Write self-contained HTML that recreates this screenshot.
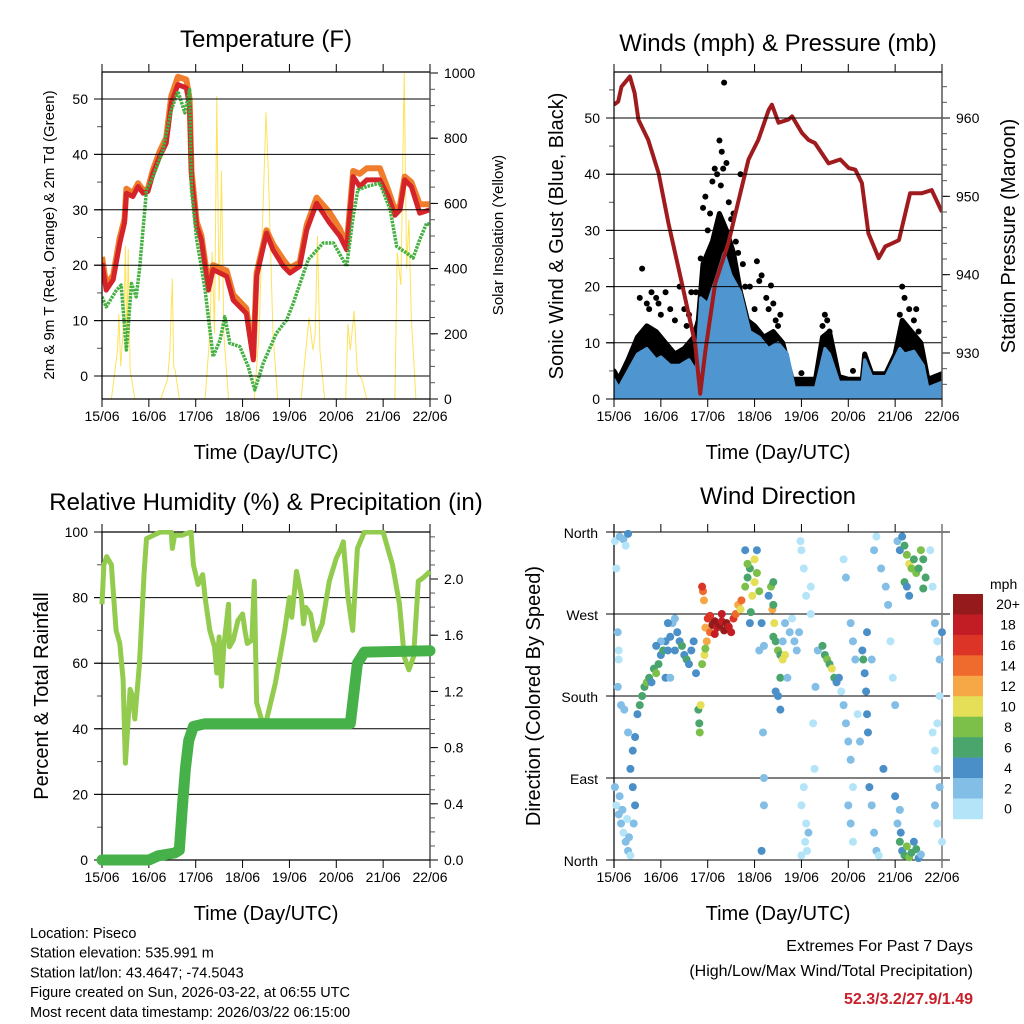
<!DOCTYPE html>
<html><head><meta charset="utf-8"><style>
html,body{margin:0;padding:0;background:#fff}
svg{display:block;font-family:"Liberation Sans",sans-serif}
</style></head><body>
<svg id="fig" width="1024" height="1024" viewBox="0 0 1024 1024" xmlns="http://www.w3.org/2000/svg"></svg>
<script>
// ---------- DATA ----------
const dayLabels=["15/06","16/06","17/06","18/06","19/06","20/06","21/06","22/06"];
// Temperature panel
const tempT=[0,0.09,0.24,0.38,0.48,0.52,0.66,0.77,0.88,0.98,1.09,1.23,1.37,1.48,1.62,1.8,1.87,1.91,2.02,2.12,2.27,2.37,2.66,2.8,3.08,3.23,3.3,3.51,3.65,3.87,4.01,4.22,4.37,4.58,4.86,5.08,5.22,5.36,5.5,5.65,5.93,6.11,6.25,6.36,6.46,6.6,6.78,7];
const temp2m=[20.4,15.5,17.4,24,27.6,33,32.4,34.2,33,33.3,36.6,39.6,42,49.3,52.6,52,48.7,36,27,24.6,15.5,19.2,18,13.7,11.3,2.9,18,25.8,22.8,19.8,18.6,19.8,26.4,31.2,27.6,25.2,22.8,36,34.2,35.4,35.4,32.4,29,30,35.4,34.2,29.4,30];
const temp9m=[21.5,16.5,18.2,25,28.3,33.8,33,34.8,33.5,33.8,37.3,40.5,43,50.5,54,53.5,50,37,27.8,25.4,16.5,20,19,14.7,12.2,3.5,18.6,26.3,23.8,21,19.5,20.5,27.3,32.2,29.5,26.5,23.5,37,36.5,37.5,37.5,33.5,30,30.8,36,35,31,31];
const dewT=[0,0.09,0.31,0.41,0.52,0.63,0.73,0.8,0.95,1.09,1.3,1.48,1.62,1.77,1.87,1.91,2.02,2.12,2.2,2.37,2.52,2.62,2.73,2.94,3.12,3.26,3.44,3.72,3.94,4.08,4.4,4.72,4.94,5.22,5.36,5.46,5.65,5.93,6.15,6.29,6.5,6.64,6.78,6.93,7];
const dewVal=[14.3,12.5,15.5,16.4,4.7,16.7,14.3,19.2,33.6,36,40.8,48,51.4,47.5,51.7,33.6,24.6,19.8,15.5,3.5,6.5,10.7,5.9,5.3,1.7,-2.5,2.3,7.7,10.1,13.1,21,24,24,19.8,28.8,33.6,34.2,34.8,30,23.4,22.2,21.3,24.6,27.6,27.3];
const solarT=[0,0.2,0.33,0.36,0.4,0.47,0.5,0.53,0.56,0.6,0.7,1.25,1.4,1.45,1.5,1.53,1.56,1.65,2.2,2.3,2.35,2.4,2.45,2.5,2.55,2.6,2.7,3.25,3.35,3.45,3.5,3.55,3.65,3.75,4.25,4.35,4.42,4.5,4.55,4.6,4.65,4.75,5.2,5.25,5.3,5.38,5.45,5.55,5.65,6.25,6.3,6.38,6.45,6.5,6.55,6.6,6.7,7];
const solarVal=[0,0,150,260,100,250,470,150,460,90,0,0,60,150,370,100,90,0,0,200,450,200,930,300,700,200,0,0,200,650,880,700,200,0,0,150,250,150,200,500,150,0,0,230,150,270,80,60,0,0,450,350,1000,400,550,250,0,0];
const tempTicks=[0,10,20,30,40,50];
const solarTicks=[0,200,400,600,800,1000];
// Winds panel
const presT=[0,0.09,0.16,0.34,0.44,0.52,0.73,0.95,1.16,1.45,1.73,1.84,1.95,2.16,2.44,2.66,2.87,3.08,3.3,3.37,3.51,3.72,3.8,4.01,4.15,4.29,4.58,4.83,5.01,5.15,5.29,5.43,5.65,5.79,6.08,6.32,6.57,6.78,7];
const presVal=[961.7,962.1,964,965.3,963.2,959.8,957.2,953,946.6,938.9,931.2,924.8,930.3,938.9,944,949.5,954.7,957.2,961,961.7,959.4,959.8,960.2,958.1,957.2,956.8,954.2,954.7,953.6,953.4,951.7,945.3,942.1,943.6,944.4,950.4,950.4,950.8,948];
const windT=[0,0.1,0.3,0.5,0.7,0.9,1.0,1.2,1.4,1.6,1.75,1.85,2.0,2.2,2.35,2.5,2.7,2.9,3.1,3.3,3.5,3.7,3.85,4.1,4.3,4.5,4.6,4.8,5.0,5.3,5.35,5.5,5.8,6.1,6.2,6.4,6.6,6.7,7];
const windHi=[3.5,2,5,8,9,7,7.5,6,6,7,5,18,17,22,26,22,19,12,11,9,10,8,2,2,2,9,8,3,3,3,7,4,4,9,8,8.5,6,2,3];
const gustT=[0,0.1,0.3,0.5,0.7,0.9,1.1,1.3,1.5,1.7,1.8,1.9,2.1,2.25,2.4,2.55,2.7,2.85,3.0,3.2,3.4,3.6,3.8,4.1,4.3,4.45,4.6,4.8,5.0,5.3,5.35,5.5,5.8,6.0,6.15,6.35,6.55,6.7,7];
const gustHi=[5,3.5,7,11,13,12,10,8,9,11,14,24,28,33,30,26,19,14,13,11,12,10,3.5,3.5,3.5,11,12,4,3.5,3.5,8,4.5,4.5,8,14,12,10,3.5,4.5];
const gustDotT=[0.6,2.35,2.1,2.2,1.75,2.7,2.1,2.3,3.05,3.35,1.1,0.8,3.55,4.5,6.15,6.45,1.5,1.4,0.9,1.65,2.55,2.6,3.1,4.0,5.1,2.9,3.4,0.55,1.95,2.45,2.25,2.4,2.15,0.7,0.75,0.95,1.0,1.2,1.3,1.55,1.6,1.85,1.9,2.0,2.05,2.28,2.33,2.5,2.65,2.75,2.8,3.0,3.15,3.25,3.3,3.45,3.5,4.45,4.55,4.6,6.1,6.2,6.3,6.4,6.5];
const gustDotV=[23.2,56.3,38.7,40,19,40,18,44,24.5,20.2,19,19,15,15,20,16,16,20,18,19,33,28,21,4.6,5,20,17,18,36,35,46,42,41,17,16,17,15,16,14,13,15,25,34,30,33,38,41,32,26,24,20,16,22,18,16,14,13,13,14,12,15,18,16,14,12];
const windTicks=[0,10,20,30,40,50];
const presTicks=[930,940,950,960];
// RH panel
const rhT=[0,0.04,0.1,0.2,0.25,0.3,0.38,0.45,0.5,0.6,0.65,0.7,0.8,0.9,0.95,1.1,1.25,1.48,1.5,1.55,1.7,1.9,1.95,2.05,2.15,2.2,2.3,2.4,2.45,2.5,2.55,2.6,2.7,2.72,2.8,2.9,3.0,3.05,3.1,3.2,3.25,3.3,3.4,3.5,3.6,3.7,3.8,3.9,4.0,4.05,4.15,4.25,4.3,4.35,4.45,4.55,4.7,4.85,5.0,5.1,5.15,5.25,5.35,5.45,5.6,5.8,6.0,6.1,6.2,6.35,6.45,6.55,6.65,6.75,6.85,7];
const rhVal=[78,90,92.5,90,80,70,66,55,29.5,52,50,43,60,88,98,99,100,100,95,99,99,100,90,84,87,80,70,65,57,68,53,65,78,65,67,73,75,70,66,67,85,48,43,42,48,54,62,70,80,74,88,81,72,77,75,67,72,85,92,95,97,80,70,95,100,100,100,95,90,78,62,58,62,85,86,88];
const rainT=[0,1.0,1.2,1.55,1.65,1.72,1.78,1.85,1.95,2.2,5.3,5.45,5.6,7];
const rainVal=[0,0,0.03,0.05,0.07,0.4,0.65,0.85,0.95,0.97,0.97,1.4,1.48,1.49];
const rhTicks=[0,20,40,60,80,100];
const rainTicks=[0.0,0.4,0.8,1.2,1.6,2.0];
// Direction panel: time (days), direction (deg), speed (mph)
const dirT=[0.02,0.05,0.08,0.1,0.12,0.2,0.25,0.3,0.02,0.05,0.1,0.15,0.2,0.25,0.3,0.35,0.12,0.18,0.28,0.32,0.08,0.1,0.15,0.22,0.3,0.35,0.4,0.45,0.5,0.55,0.6,0.65,0.7,0.75,0.8,0.85,0.9,0.95,1.0,1.05,1.1,1.15,1.2,1.25,1.3,1.35,1.4,1.45,1.5,1.55,1.6,1.65,1.7,1.75,1.8,1.82,1.83,1.85,0.45,0.4,0.42,1.0,0.9,1.15,1.1,1.2,1.3,
1.9,1.88,1.92,1.95,2.0,2.05,2.1,2.15,2.2,2.25,2.3,2.35,2.4,2.45,2.5,2.55,2.6,2.65,2.7,2.72,2.3,2.15,2.05,1.98,1.93,1.88,1.95,
2.8,2.85,2.9,2.95,3.0,3.05,3.1,2.8,2.85,3.0,2.92,2.9,3.05,3.15,3.2,3.3,3.35,3.4,3.38,3.42,3.4,3.45,3.5,3.55,3.6,3.65,3.55,3.5,3.55,3.7,3.6,3.65,3.75,3.8,3.85,3.9,3.95,3.4,3.45,3.18,3.2,3.2,3.15,3.1,
3.98,4.0,4.05,4.1,4.05,4.0,4.1,4.15,4.08,4.12,4.0,4.2,4.25,4.28,4.2,4.35,4.3,4.45,4.5,4.55,4.6,4.65,4.7,4.75,4.8,4.85,4.9,4.95,5.0,5.05,5.1,5.0,5.05,5.1,4.9,4.95,5.05,5.1,5.15,5.2,5.25,5.3,5.32,5.35,5.38,5.4,5.42,5.4,5.45,5.5,5.55,5.6,5.65,5.5,5.55,5.6,5.7,5.8,5.85,5.9,5.95,6.0,5.75,
6.05,6.1,6.15,6.2,6.25,6.3,6.35,6.4,6.45,6.5,6.55,6.6,6.65,6.2,6.25,6.3,6.6,6.1,6.15,6.2,6.25,6.3,6.35,6.4,6.45,6.5,6.55,6.0,6.05,6.1,6.12,6.8,6.85,6.9,6.95,6.95,6.9,6.85,6.9,6.95,6.85,6.9,7.0,7.0,6.75,6.8];
const dirVal=[350,320,250,230,355,352,345,358,80,60,50,40,30,20,10,5,70,55,45,25,190,220,170,165,140,100,120,135,160,170,180,190,195,200,195,210,205,215,225,230,240,230,245,260,265,250,240,235,225,220,215,230,240,205,165,150,140,170,60,80,40,240,235,260,200,200,230,
295,300,285,255,265,250,258,262,255,258,262,252,260,256,250,265,270,280,275,285,270,248,268,240,225,215,232,
300,310,320,290,305,315,295,340,325,330,272,260,340,260,235,290,300,305,275,260,245,240,230,225,220,225,200,180,165,200,240,260,250,265,240,230,250,280,185,140,90,60,10,230,
350,340,320,290,80,60,40,30,20,10,5,270,150,100,300,230,190,235,225,220,215,210,200,195,200,185,170,150,130,110,80,60,40,20,330,310,260,240,220,160,130,230,220,205,185,160,140,250,80,60,30,10,5,220,340,355,320,300,280,240,200,170,100,
350,340,355,345,335,325,320,330,315,320,340,330,310,305,300,290,298,20,10,5,15,3,8,20,12,2,6,70,40,55,30,300,260,240,220,180,150,120,100,80,60,40,20,250,340,140];
const dirSpd=[1,1,2,1,2,2,1,4,2,1,2,2,1,2,2,1,3,2,1,3,2,1,2,3,2,4,4,4,4,6,7,6,8,6,4,6,8,6,4,6,4,4,4,2,3,4,4,6,4,6,5,4,4,5,6,7,8,10,4,4,3,2,4,4,4,3,4,
15,16,13,12,16,15,20,20,19,20,19,20,20,19,18,17,14,12,10,14,18,19,17,13,11,9,8,
8,7,6,10,11,9,8,4,8,10,6,4,4,4,2,4,8,6,12,10,6,6,8,6,10,10,6,4,4,2,2,2,2,1,2,2,2,6,4,3,2,2,4,2,
0,1,0,1,1,1,1,2,0,1,0,1,1,1,0,2,3,6,7,8,7,10,6,4,4,1,2,2,2,2,1,2,2,1,1,2,3,2,2,1,2,5,6,4,4,4,4,4,4,3,2,3,1,2,2,1,2,3,2,1,1,2,4,
2,4,4,6,8,10,8,6,8,6,8,6,6,6,4,4,6,6,4,6,8,8,6,4,6,4,2,4,2,2,4,1,2,1,2,1,1,1,1,2,2,1,1,4,1,1];
const speedBins=["0","2","4","6","8","10","12","14","16","18","20+"];
const speedColors=["#b4e4f8","#82bee6","#4a8fc7","#4aa56c","#7cc04a","#e4df57","#f5a845","#ee6a2d","#dd3428","#c21d24","#941a1c"];
const dirTicks=[0,90,180,270,360];
const dirNames=["North","East","South","West","North"];

// ---------- DRAWING ----------
const NS="http://www.w3.org/2000/svg";
const svg=document.getElementById('fig');
function mk(parent,tag,attrs,name,inter){
  const el=document.createElementNS(NS,tag);
  for(const k in attrs) el.setAttribute(k,attrs[k]);
  
  
  parent.appendChild(el);
  return el;
}
function txt(parent,x,y,s,size,anchor,name,extra){
  const a=Object.assign({x:x,y:y,'font-size':size,'text-anchor':anchor||'middle',fill:'#000'},extra||{});
  const t=mk(parent,'text',a,name,false);
  t.textContent=s;
  return t;
}
function lin(d0,d1,r0,r1){return v=>r0+(v-d0)*(r1-r0)/(d1-d0);}
function path(xs,ys,fx,fy){return xs.map((t,i)=>(i?'L':'M')+fx(t).toFixed(1)+','+fy(ys[i]).toFixed(1)).join('');}

function frame(g,X0,X1,Y0,Y1,fx,lticks,fyL,lfmt,rticks,fyR,rfmt,rminor,lminor,gridTicks){
  gridTicks.forEach(v=>{mk(g,'line',{x1:X0-8,x2:X1,y1:fyL(v),y2:fyL(v),stroke:'#000','stroke-width':1},'grid-line',false);});
  lminor.forEach(v=>{mk(g,'line',{x1:X0-5,x2:X0,y1:fyL(v),y2:fyL(v),stroke:'#555','stroke-width':1},'left-minor-tick',false);});
  lticks.forEach(v=>{
    mk(g,'line',{x1:X0-8,x2:X0,y1:fyL(v),y2:fyL(v),stroke:'#000','stroke-width':1},'left-tick',false);
    txt(g,X0-14,fyL(v)+5,lfmt(v),14,'end','left-tick-label');
  });
  if(rticks){
    rminor.forEach(v=>{mk(g,'line',{x1:X1,x2:X1+5,y1:fyR(v),y2:fyR(v),stroke:'#555','stroke-width':1},'right-minor-tick',false);});
    rticks.forEach(v=>{
      mk(g,'line',{x1:X1,x2:X1+8,y1:fyR(v),y2:fyR(v),stroke:'#000','stroke-width':1},'right-tick',false);
      txt(g,X1+14,fyR(v)+5,rfmt(v),14,'start','right-tick-label');
    });
  }
  dayLabels.forEach((d,i)=>{
    const x=fx(i);
    mk(g,'line',{x1:x,x2:x,y1:Y1,y2:Y1+8,stroke:'#000','stroke-width':1},'bottom-tick',false);
    mk(g,'line',{x1:x,x2:x,y1:Y0-8,y2:Y0,stroke:'#000','stroke-width':1},'top-tick',false);
    txt(g,x,Y1+22,d,14,'middle','x-tick-label');
  });
  mk(g,'line',{x1:X0,x2:X0,y1:Y0,y2:Y1,stroke:'#000','stroke-width':1.2},'left-axis',false);
  mk(g,'line',{x1:X1,x2:X1,y1:Y0,y2:Y1,stroke:'#555','stroke-width':1.5},'right-axis',false);
  mk(g,'line',{x1:X0,x2:X1,y1:Y0,y2:Y0,stroke:'#000','stroke-width':1.2},'top-axis',false);
  mk(g,'line',{x1:X0,x2:X1,y1:Y1,y2:Y1,stroke:'#000','stroke-width':1.2},'bottom-axis',false);
  txt(g,(X0+X1)/2,Y1+60,'Time (Day/UTC)',20,'middle','x-axis-title');
}
function range(a,b,s){const r=[];for(let v=a;v<=b+1e-9;v+=s)r.push(+v.toFixed(4));return r;}

// ===== Panel 1: Temperature =====
{
  const g=mk(svg,'g',{},'temperature-panel',false);
  const X0=102,X1=430,Y0=72,Y1=399;
  const fx=lin(0,7,X0,X1), fy=lin(0,50,376,99), fs=lin(0,1000,399,73);
  const cp=mk(svg,'clipPath',{id:'c1'},'clip',false);mk(cp,'rect',{x:X0,y:Y0,width:X1-X0,height:Y1-Y0},'clip-rect',false);
  const plot=mk(g,'g',{'clip-path':'url(#c1)'},'temperature-plot-area',false);
  mk(plot,'path',{d:path(solarT,solarVal,fx,fs),fill:'none',stroke:'#fde35a','stroke-width':1},'solar-insolation-line',false);
  mk(plot,'path',{d:path(tempT,temp9m,fx,fy),fill:'none',stroke:'#f07d2c','stroke-width':6,'stroke-linejoin':'round'},'temp-9m-line',false);
  mk(plot,'path',{d:path(tempT,temp2m,fx,fy),fill:'none',stroke:'#d5232a','stroke-width':5,'stroke-linejoin':'round'},'temp-2m-line',false);
  mk(plot,'path',{d:path(dewT,dewVal,fx,fy),fill:'none',stroke:'#43b040','stroke-width':3.5,'stroke-dasharray':'2.5 1','stroke-linejoin':'round'},'dewpoint-line',false);
  frame(g,X0,X1,Y0,Y1,fx,tempTicks,fy,v=>String(v),solarTicks,fs,v=>String(v),range(0,1000,50),range(-0,55,5).concat([-5]).filter(v=>fy(v)>=Y0&&fy(v)<=Y1),range(0,50,10));
  txt(g,266,47,'Temperature (F)',24,'middle','chart-title');
  txt(g,0,0,'2m & 9m T (Red, Orange) & 2m Td (Green)',15,'middle','y-axis-title',{transform:'translate(54,235) rotate(-90)'});
  txt(g,0,0,'Solar Insolation (Yellow)',15,'middle','right-axis-title',{transform:'translate(503,235) rotate(-90)'});
}
// ===== Panel 2: Winds =====
{
  const g=mk(svg,'g',{},'winds-panel',false);
  const X0=614,X1=942,Y0=62,Y1=399;
  const fx=lin(0,7,X0,X1), fy=lin(0,50,399,118), fp=lin(930,960,353,118);
  const cp=mk(svg,'clipPath',{id:'c2'},'clip',false);mk(cp,'rect',{x:X0,y:Y0,width:X1-X0,height:Y1-Y0},'clip-rect',false);
  const plot=mk(g,'g',{'clip-path':'url(#c2)'},'winds-plot-area',false);
  const gd=path(gustT,gustHi,fx,fy)+'L'+fx(7)+','+fy(0)+'L'+fx(0)+','+fy(0)+'Z';
  mk(plot,'path',{d:gd,fill:'#000',stroke:'#000','stroke-width':5,'stroke-linejoin':'round'},'gust-band',false);
  gustDotT.forEach((t,i)=>{mk(plot,'circle',{cx:fx(t),cy:fy(gustDotV[i]),r:3,fill:'#000'},'gust-point',false);});
  const wd=path(windT,windHi,fx,fy)+'L'+fx(7)+','+fy(0)+'L'+fx(0)+','+fy(0)+'Z';
  mk(plot,'path',{d:wd,fill:'#4f96d0',stroke:'#4f96d0','stroke-width':3,'stroke-linejoin':'round'},'wind-speed-band',false);
  mk(plot,'path',{d:path(presT,presVal,fx,fp),fill:'none',stroke:'#a01b1d','stroke-width':4,'stroke-linejoin':'round'},'pressure-line',false);
  frame(g,X0,X1,72,Y1,fx,windTicks,fy,v=>String(v),presTicks,fp,v=>String(v),range(926,966,2).filter(v=>fp(v)>=72&&fp(v)<=Y1),range(5,55,5),range(0,50,10));
  txt(g,778,51,'Winds (mph) & Pressure (mb)',24,'middle','chart-title');
  txt(g,0,0,'Sonic Wind & Gust (Blue, Black)',20,'middle','y-axis-title',{transform:'translate(563,236) rotate(-90)'});
  txt(g,0,0,'Station Pressure (Maroon)',20,'middle','right-axis-title',{transform:'translate(1015,236) rotate(-90)'});
}
// ===== Panel 3: RH =====
{
  const g=mk(svg,'g',{},'humidity-panel',false);
  const X0=102,X1=430,Y0=532,Y1=860;
  const fx=lin(0,7,X0,X1), fy=lin(0,100,860,532), fr=lin(0,2,860,579);
  const cp=mk(svg,'clipPath',{id:'c3'},'clip',false);mk(cp,'rect',{x:X0-8,y:Y0-2,width:X1-X0+16,height:Y1-Y0+10},'clip-rect',false);
  frame(g,X0,X1,Y0,Y1,fx,rhTicks,fy,v=>String(v),rainTicks,fr,v=>v.toFixed(1),range(0,2.3,0.1),range(10,90,10),rhTicks);
  const plot=mk(g,'g',{'clip-path':'url(#c3)'},'humidity-plot-area',false);
  mk(plot,'path',{d:path(rhT,rhVal,fx,fy),fill:'none',stroke:'#92cb4e','stroke-width':5,'stroke-linejoin':'round'},'relative-humidity-line',false);
  mk(plot,'path',{d:path(rainT,rainVal,fx,fr),fill:'none',stroke:'#46b148','stroke-width':11,'stroke-linejoin':'round','stroke-linecap':'round'},'precipitation-line',false);
  txt(g,266,510,'Relative Humidity (%) & Precipitation (in)',24,'middle','chart-title');
  txt(g,0,0,'Percent & Total Rainfall',20,'middle','y-axis-title',{transform:'translate(48,696) rotate(-90)'});
}
// ===== Panel 4: Direction =====
{
  const g=mk(svg,'g',{},'wind-direction-panel',false);
  const X0=614,X1=942,Y0=532,Y1=860;
  const fx=lin(0,7,X0,X1), fy=lin(0,360,860,532);
  dirTicks.forEach((v,i)=>{
    mk(g,'line',{x1:X0-8,x2:X1+8,y1:fy(v),y2:fy(v),stroke:'#000','stroke-width':1},'grid-line',false);
    txt(g,X0-16,fy(v)+6,dirNames[i],14,'end','direction-tick-label');
  });
  dayLabels.forEach((d,i)=>{
    const x=fx(i);
    mk(g,'line',{x1:x,x2:x,y1:Y1,y2:Y1+8,stroke:'#000'},'bottom-tick',false);
    mk(g,'line',{x1:x,x2:x,y1:Y0-8,y2:Y0,stroke:'#000'},'top-tick',false);
    txt(g,x,Y1+22,d,14,'middle','x-tick-label');
  });
  mk(g,'line',{x1:X0,x2:X0,y1:Y0-8,y2:Y1+8,stroke:'#000','stroke-width':1.2},'left-axis',false);
  mk(g,'line',{x1:X1,x2:X1,y1:Y0-8,y2:Y1+8,stroke:'#777','stroke-width':1.5},'right-axis',false);
  const plot=mk(g,'g',{},'direction-plot-area',false);
  dirT.forEach((t,i)=>{
    const b=Math.min(10,Math.floor(dirSpd[i]/2));
    mk(plot,'circle',{cx:fx(t),cy:fy(dirVal[i]),r:4,fill:speedColors[b]},'direction-point',false);
  });
  txt(g,(X0+X1)/2,Y1+60,'Time (Day/UTC)',20,'middle','x-axis-title');
  txt(g,778,504,'Wind Direction',24,'middle','chart-title');
  txt(g,0,0,'Direction (Colored By Speed)',20,'middle','y-axis-title',{transform:'translate(540,696) rotate(-90)'});
  const lg=mk(g,'g',{},'speed-legend',false);
  txt(lg,990,589,'mph',14,'start','legend-title');
  const bh=20.45;
  speedBins.forEach((s,i)=>{
    const k=10-i, y=594+i*bh;
    mk(lg,'rect',{x:953,y:y,width:30,height:bh+0.3,fill:speedColors[k]},'legend-swatch',false);
    txt(lg,1008,y+bh/2+5,speedBins[k],14,'middle','legend-label');
  });
}
// ===== Footer =====
{
  const g=mk(svg,'g',{},'footer',false);
  const lines=["Location: Piseco","Station elevation: 535.991 m","Station lat/lon: 43.4647; -74.5043","Figure created on Sun, 2026-03-22, at 06:55 UTC","Most recent data timestamp: 2026/03/22 06:15:00"];
  lines.forEach((s,i)=>txt(g,30,938+i*19.7,s,14.5,'start','station-info-line'));
  txt(g,973,951,'Extremes For Past 7 Days',16,'end','extremes-title');
  txt(g,973,976,'(High/Low/Max Wind/Total Precipitation)',16,'end','extremes-subtitle');
  txt(g,973,1004,'52.3/3.2/27.9/1.49',16,'end','extremes-values',{fill:'#c8202a','font-weight':'bold'});
}
</script>
</body></html>
